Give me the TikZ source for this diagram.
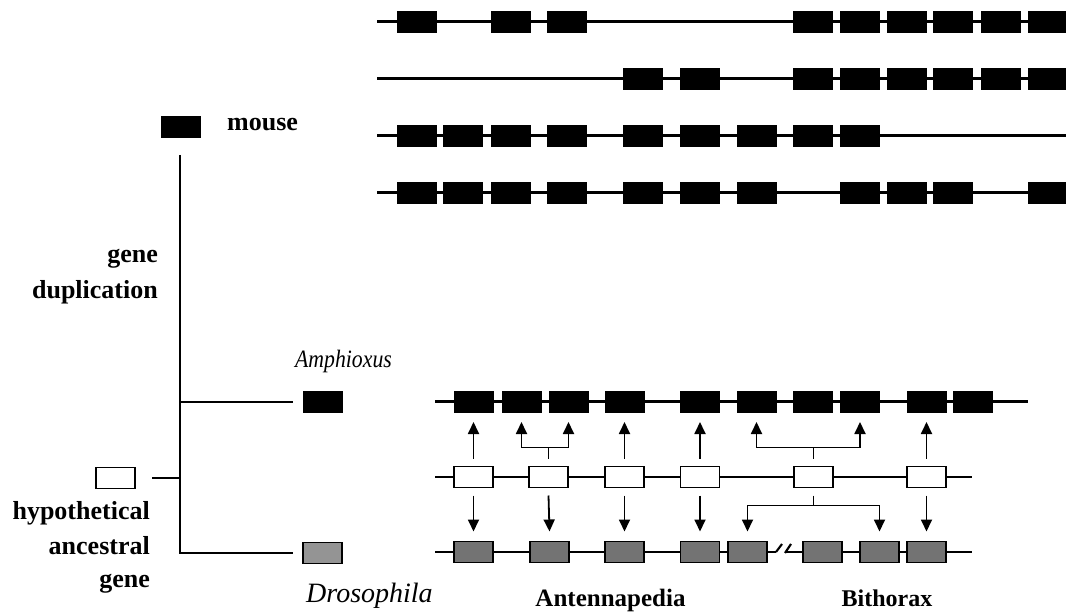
\documentclass[tikz,border=0pt]{standalone}
\usepackage{fontspec}
\setmainfont{Liberation Serif}
\usetikzlibrary{arrows.meta}
\begin{document}
\begin{tikzpicture}[x=1pt,y=-1pt,
  exon/.style={draw=black, minimum width=39pt, minimum height=21pt, inner sep=0pt, outer sep=0pt},
  mexon/.style={exon, fill=black, line width=0.8pt},
  hexon/.style={exon, fill=white, line width=1.6pt},
  dexon/.style={exon, fill=black!55, line width=1.6pt},
  legdexon/.style={exon, fill=black!42, line width=1.6pt},
  chrom/.style={line width=2.1pt},
  tree/.style={line width=2.3pt},
  link/.style={line width=1.8pt, -{Triangle[width=11pt,length=12pt]}},
  fork/.style={line width=1.8pt},
  boldlab/.style={font=\fontsize{26}{30}\selectfont\bfseries, inner sep=0pt},
  itlab/.style={inner sep=0pt},
]
\path[use as bounding box] (0,0) rectangle (1066,612);

% ---- mouse Hox clusters (four paralogous chromosomes) ----
\foreach \r/\y/\s in {
  1/21.5/{416.5,510.5,567,812.5,859.5,907,953,1000.5,1047.5},
  2/78.5/{643,699.5,812.5,859.5,907,953,1000.5,1047.5},
  3/135.5/{416.5,463,510.5,567,643,699.5,756.5,812.5,859.5},
  4/192.5/{416.5,463,510.5,567,643,699.5,756.5,859.5,907,953,1047.5}} {
  \coordinate (m\r-start) at (377,\y);
  \coordinate (m\r-end) at (1068,\y);
  \draw[chrom] (m\r-start) -- (m\r-end);
  \foreach \x [count=\i] in \s {
    \node[mexon] (m\r-\i) at (\x,\y) {};
  }
}

% ---- Amphioxus cluster ----
\coordinate (a-start) at (435,401.5);
\coordinate (a-end) at (1028,401.5);
\draw[chrom] (a-start) -- (a-end);
\foreach \x [count=\i] in {473.5,521.5,568.5,624.5,700,756.5,813,860,926.5,973} {
  \node[mexon] (a\i) at (\x,401.5) {};
}

% ---- hypothetical ancestral cluster ----
\coordinate (h-start) at (435,477);
\coordinate (h-end) at (972,477);
\draw[chrom] (h-start) -- (h-end);
\foreach \x [count=\i] in {473.5,548.5,624.5,700,813.5,926.5} {
  \node[hexon] (h\i) at (\x,477) {};
}

% ---- Drosophila cluster, split into Antennapedia and Bithorax ----
\coordinate (d-start) at (435,552);
\coordinate (d-brkL) at (776,552);
\coordinate (d-brkR) at (785,552);
\coordinate (d-end) at (972,552);
\draw[chrom] (d-start) -- (d-brkL);
\draw[chrom] (d-brkR) -- (d-end);
\draw[chrom] (776,552) -- (782,544);
\draw[chrom] (785,553) -- (791,544);
\foreach \x [count=\i] in {473.5,549.5,624.5,700,747.5,822.5,879.5,926.5} {
  \node[dexon] (d\i) at (\x,552) {};
}

% ---- correspondences: ancestral gene -> Amphioxus ----
\draw[link] ([yshift=8pt]h1.north) -- ([yshift=-10pt]a1.south);
\draw[fork] ([yshift=8pt]h2.north) -- ([yshift=19pt]h2.north);
\draw[link] ([yshift=19pt]h2.north) -| ([yshift=-10pt]a2.south);
\draw[link] ([yshift=19pt]h2.north) -| ([yshift=-10pt]a3.south);
\draw[link] ([yshift=8pt]h3.north) -- ([yshift=-10pt]a4.south);
\draw[link] ([yshift=8pt]h4.north) -- ([yshift=-10pt]a5.south);
\draw[fork] ([yshift=8pt]h5.north) -- ([yshift=19pt]h5.north);
\draw[link] ([yshift=19pt]h5.north) -| ([yshift=-10pt]a6.south);
\draw[link] ([yshift=19pt]h5.north) -| ([yshift=-10pt]a8.south);
\draw[link] ([yshift=8pt]h6.north) -- ([yshift=-10pt]a9.south);

% ---- correspondences: ancestral gene -> Drosophila ----
\draw[link] ([yshift=-8pt]h1.south) -- ([yshift=10pt]d1.north);
\draw[link] ([yshift=-8pt]h2.south) -- ([yshift=10pt]d2.north);
\draw[link] ([yshift=-8pt]h3.south) -- ([yshift=10pt]d3.north);
\draw[link] ([yshift=-8pt]h4.south) -- ([yshift=10pt]d4.north);
\draw[fork] ([yshift=-8pt]h5.south) -- ([yshift=-18pt]h5.south);
\draw[link] ([yshift=-18pt]h5.south) -| ([yshift=10pt]d5.north);
\draw[link] ([yshift=-18pt]h5.south) -| ([yshift=10pt]d7.north);
\draw[link] ([yshift=-8pt]h6.south) -- ([yshift=10pt]d8.north);

% ---- phylogeny on the left ----
\node[mexon] (legM) at (180.5,126.5) {};
\node[mexon] (legA) at (322.5,402) {};
\node[hexon] (legH) at (115.5,478) {};
\node[legdexon] (legD) at (322.5,553) {};
\coordinate (treeTop) at (180,155);
\draw[tree] (treeTop) -- (treeTop |- legD) -- ([xshift=-10pt]legD.west);
\draw[tree] (treeTop |- legA) -- ([xshift=-10pt]legA.west);
\draw[tree] ([xshift=17pt]legH.east) -- (treeTop |- legH);

% ---- labels ----
\node[boldlab, anchor=base west] (tMouse) at (227,131) {mouse};
\node[boldlab, anchor=base east] (tGene1) at (158,263) {gene};
\node[boldlab, anchor=base east] (tDup) at (158,299) {duplication};
\node[boldlab, anchor=base east] (tHyp) at (150,519) {hypothetical};
\node[boldlab, anchor=base east] (tAnc) at (150,554) {ancestral};
\node[boldlab, anchor=base east] (tGene2) at (150,587) {gene};
\node[itlab, anchor=base west] (tAmph) at (295,367)
  {\scalebox{0.87}[1]{\fontsize{25}{28}\selectfont\itshape Amphioxus}};
\node[itlab, anchor=base west] (tDros) at (306,602)
  {\fontsize{28}{30}\selectfont\itshape Drosophila};
\node[boldlab, font=\fontsize{25}{28}\selectfont\bfseries, anchor=base] (tAnt) at (610.5,606) {Antennapedia};
\node[boldlab, font=\fontsize{24}{28}\selectfont\bfseries, anchor=base] (tBx) at (887,606) {Bithorax};
\end{tikzpicture}
\end{document}
